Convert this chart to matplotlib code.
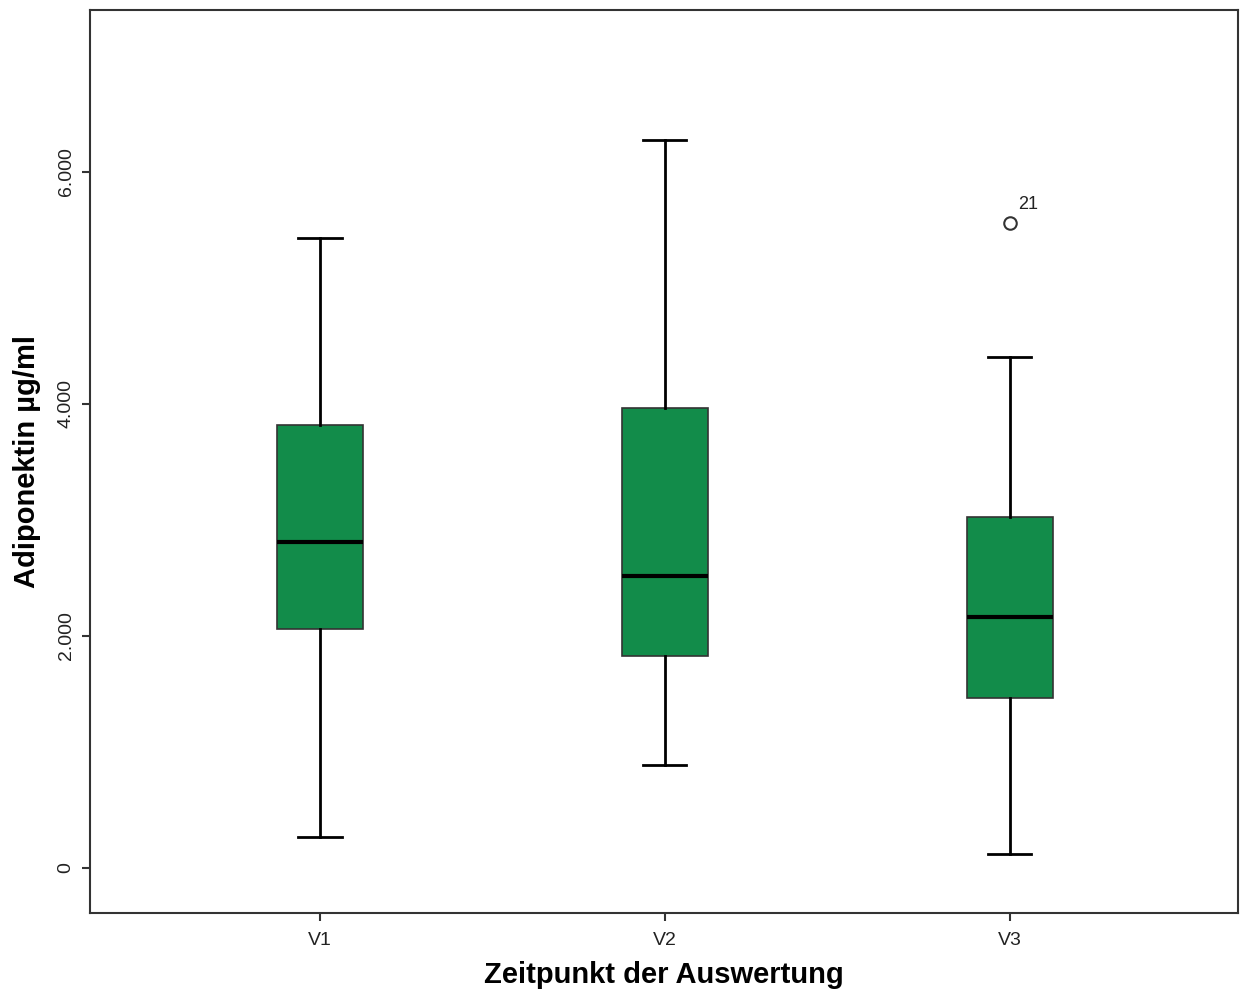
import matplotlib.pyplot as plt
from matplotlib.ticker import FuncFormatter

# values (µg/ml)
labels = ["V1", "V2", "V3"]
whisker_low = [267, 888, 121]
q1 = [2060, 1828, 1466]
median = [2810, 2517, 2164]
q3 = [3819, 3966, 3026]
whisker_high = [5431, 6276, 4405]
outliers = [[], [], [5560]]
outlier_ids = [[], [], ["21"]]

green = "#128c4a"


def make_stats():
    stats = []
    for i, lab in enumerate(labels):
        stats.append({
            "label": lab,
            "whislo": whisker_low[i],
            "q1": q1[i],
            "med": median[i],
            "q3": q3[i],
            "whishi": whisker_high[i],
            "fliers": outliers[i],
        })
    return stats


fig = plt.figure(figsize=(12.4, 9.93), dpi=100)
ax = fig.add_axes([0.0726, 0.0806, 0.9254, 0.9094])

ax.bxp(make_stats(), positions=[1, 2, 3], widths=0.25, capwidths=0.125,
       patch_artist=True,
       boxprops=dict(facecolor=green, edgecolor="#333333", linewidth=1.2),
       medianprops=dict(color="black", linewidth=3),
       whiskerprops=dict(color="black", linewidth=2),
       capprops=dict(color="black", linewidth=2),
       flierprops=dict(marker="o", markerfacecolor="white", markeredgecolor="#333333",
                       markersize=9, markeredgewidth=1.5))

for i, ids in enumerate(outlier_ids):
    for val, lab in zip(outliers[i], ids):
        ax.annotate(lab, (i + 1, val), xytext=(6, 10), textcoords="offset points",
                    fontsize=13, family="Liberation Sans", color="#222222")

ax.set_xlim(1 - 0.667, 3 + 0.661)
ax.set_ylim(-388, 7397)
ax.set_yticks([0, 2000, 4000, 6000])
ax.yaxis.set_major_formatter(FuncFormatter(lambda v, p: "{:,.0f}".format(v).replace(",", ".")))
for t in ax.get_yticklabels():
    t.set_rotation(90)
    t.set_va("center")
ax.tick_params(axis="both", labelsize=14, length=6, width=1.5, color="#333333", labelcolor="#222222")
ax.tick_params(axis="x", pad=8)
ax.tick_params(axis="y", pad=5)
for t in ax.get_xticklabels() + ax.get_yticklabels():
    t.set_family("Liberation Sans")

for s in ax.spines.values():
    s.set_color("#333333")
    s.set_linewidth(1.5)

ax.set_xlabel("Zeitpunkt der Auswertung", fontsize=21, fontweight="bold",
              family="Liberation Sans", labelpad=8)
ax.set_ylabel("Adiponektin µg/ml", fontsize=21, fontweight="bold",
              family="Liberation Sans", labelpad=12)

fig.savefig("out.png", dpi=100)
